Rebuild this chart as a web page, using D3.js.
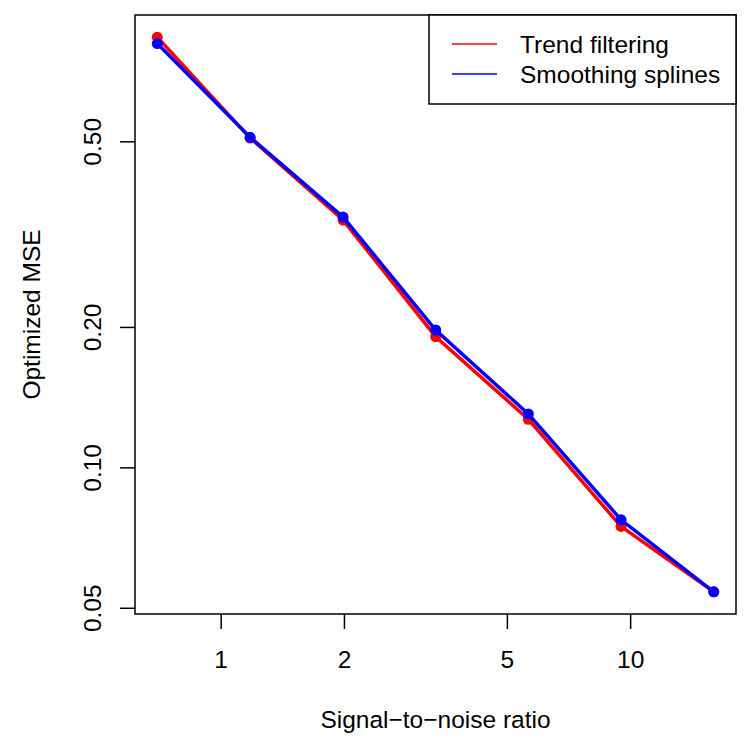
<!DOCTYPE html>
<html>
<head>
<meta charset="utf-8">
<script src="https://cdn.jsdelivr.net/npm/d3@7"></script>
<style>
  body { margin: 0; background: #fff; }
  text { font-family: "Liberation Sans", Arial, sans-serif; fill: #000; }
</style>
</head>
<body>
<div id="chart"></div>
<script>
// Data
const snr = [0.7, 1.18, 1.99, 3.35, 5.64, 9.5, 16];
const trendFiltering = [0.836, 0.508, 0.339, 0.1906, 0.1268, 0.0747, 0.0541];
const smoothingSplines = [0.810, 0.510, 0.344, 0.197, 0.1302, 0.0772, 0.0541];
const xTicks = [1, 2, 5, 10];
const yTicks = [0.05, 0.10, 0.20, 0.50];
const seriesNames = ["Trend filtering", "Smoothing splines"];
const seriesColors = ["#ff0000", "#0000ff"];

const width = 750, height = 750;
const plot = { left: 135, right: 736, top: 15, bottom: 614 };
const fontSize = 24.5;

const svg = d3.select("#chart")
  .append("svg")
  .attr("width", width)
  .attr("height", height);

// R-style log domains with 4% padding
function padLog(values) {
  const lo = Math.log10(d3.min(values)), hi = Math.log10(d3.max(values));
  const pad = (hi - lo) * 0.04;
  return [Math.pow(10, lo - pad), Math.pow(10, hi + pad)];
}

const x = d3.scaleLog()
  .domain(padLog(snr))
  .range([plot.left, plot.right]);

const y = d3.scaleLog()
  .domain(padLog(trendFiltering.concat(smoothingSplines)))
  .range([plot.bottom, plot.top]);

// x axis
const xAxis = svg.append("g")
  .attr("transform", `translate(0,${plot.bottom})`)
  .call(d3.axisBottom(x).tickValues(xTicks).tickFormat(d3.format("d")).tickSize(15).tickPadding(22).tickSizeOuter(0));
xAxis.select(".domain").remove();
xAxis.selectAll("line").attr("stroke", "#000").attr("stroke-width", 1.5);
xAxis.selectAll("text").attr("font-size", fontSize).attr("font-family", "Liberation Sans, Arial, sans-serif");

// y axis (labels parallel to axis, like R)
const yAxis = svg.append("g")
  .attr("transform", `translate(${plot.left},0)`)
  .call(d3.axisLeft(y).tickValues(yTicks).tickFormat(d3.format(".2f")).tickSize(15).tickSizeOuter(0));
yAxis.select(".domain").remove();
yAxis.selectAll("line").attr("stroke", "#000").attr("stroke-width", 1.5);
yAxis.selectAll("text")
  .attr("x", null).attr("dy", null)
  .attr("font-size", fontSize)
  .attr("font-family", "Liberation Sans, Arial, sans-serif")
  .attr("text-anchor", "middle")
  .attr("transform", `translate(${101 - plot.left},0) rotate(-90)`);

// plot box
svg.append("rect")
  .attr("x", plot.left)
  .attr("y", plot.top)
  .attr("width", plot.right - plot.left)
  .attr("height", plot.bottom - plot.top)
  .attr("fill", "none")
  .attr("stroke", "#000")
  .attr("stroke-width", 1.5);

// series
const series = [trendFiltering, smoothingSplines];
const line = d3.line()
  .x((d, i) => x(snr[i]))
  .y(d => y(d));

series.forEach((vals, k) => {
  svg.append("path")
    .datum(vals)
    .attr("d", line)
    .attr("fill", "none")
    .attr("stroke", seriesColors[k])
    .attr("stroke-width", 3.5);

  svg.selectAll(".pt" + k)
    .data(vals)
    .enter()
    .append("circle")
    .attr("class", "pt" + k)
    .attr("cx", (d, i) => x(snr[i]))
    .attr("cy", d => y(d))
    .attr("r", 5.5)
    .attr("fill", seriesColors[k]);
});

// axis titles
svg.append("text")
  .attr("x", (plot.left + plot.right) / 2)
  .attr("y", 728)
  .attr("text-anchor", "middle")
  .attr("font-size", fontSize)
  .text("Signal\u2212to\u2212noise ratio");

svg.append("text")
  .attr("transform", `translate(40,${(plot.top + plot.bottom) / 2}) rotate(-90)`)
  .attr("text-anchor", "middle")
  .attr("font-size", fontSize)
  .text("Optimized MSE");

// legend
const legend = svg.append("g");
legend.append("rect")
  .attr("x", 429)
  .attr("y", plot.top)
  .attr("width", plot.right - 429)
  .attr("height", 89)
  .attr("fill", "#fff")
  .attr("stroke", "#000")
  .attr("stroke-width", 1.5);

seriesNames.forEach((name, k) => {
  const ly = 44 + k * 30;
  legend.append("line")
    .attr("x1", 452).attr("x2", 497)
    .attr("y1", ly).attr("y2", ly)
    .attr("stroke", seriesColors[k])
    .attr("stroke-width", 1.5);
  legend.append("text")
    .attr("x", 520)
    .attr("y", ly)
    .attr("dy", "0.35em")
    .attr("font-size", fontSize)
    .text(name);
});
</script>
</body>
</html>
